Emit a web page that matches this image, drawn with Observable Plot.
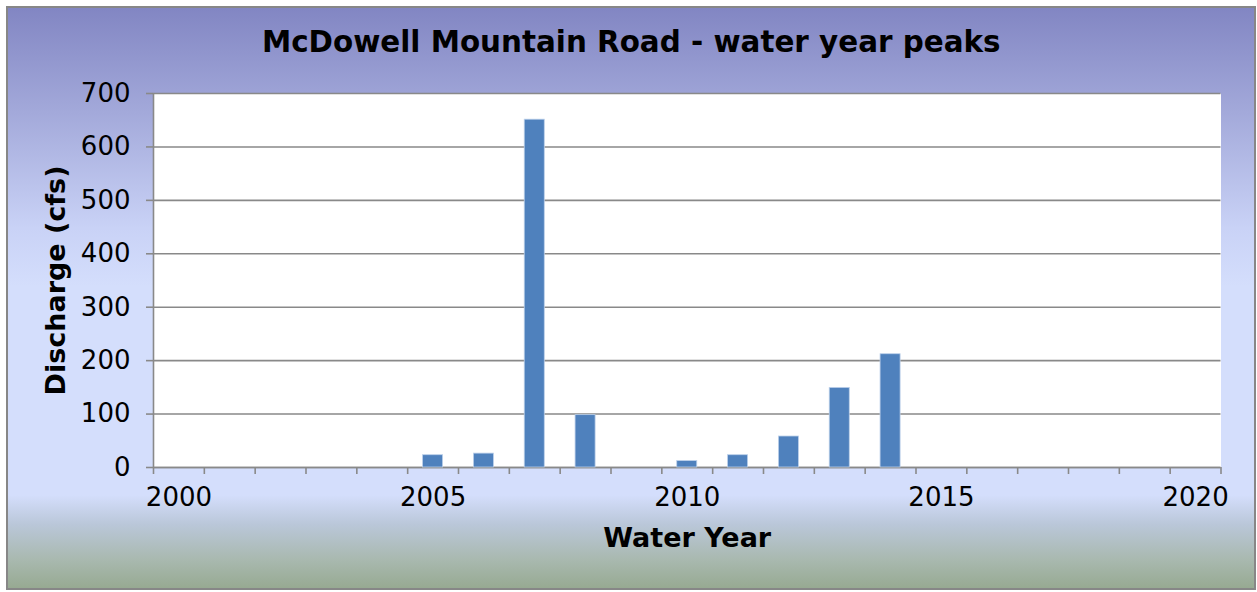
<!DOCTYPE html>
<html>
<head>
<meta charset="utf-8">
<script src="https://cdn.jsdelivr.net/npm/d3@7"></script>
<script src="https://cdn.jsdelivr.net/npm/@observablehq/plot@0.6"></script>
<style>
  html, body { margin: 0; padding: 0; background: #ffffff; }
  #wrap { position: relative; width: 1257px; height: 592px; overflow: hidden; }
  #bg {
    position: absolute; left: 6px; top: 6px; width: 1246px; height: 580px;
    border: 2px solid #878787;
    background: linear-gradient(to bottom, #8286c3 0%, #a3a9da 18%, #c9d2f6 38%, #d4defc 48%, #d4defc 84%, #bac7d9 89%, #a9b9b0 95%, #97aa92 100%);
  }
  #chart { position: absolute; left: 0; top: 0; }
</style>
</head>
<body>
<div id="wrap"><div id="bg"></div><div id="chart"></div></div>
<script>
const title = "McDowell Mountain Road - water year peaks";
const xTitle = "Water Year";
const yTitle = "Discharge (cfs)";
const years = [2005, 2006, 2007, 2008, 2010, 2011, 2012, 2013, 2014];
const peaks = [23, 26, 651, 98, 12, 23, 58, 149, 212];
const xDomain = [1999.5, 2020.5];
const xTickLabels = [2000, 2005, 2010, 2015, 2020];
const xTickMarks = d3.range(1999.5, 2021, 1);
const yTicks = [0, 100, 200, 300, 400, 500, 600, 700];

const rows = years.map((y, i) => ({year: y, peak: peaks[i]}));
const font = "DejaVu Sans";
const grid = "#898989";

const chart = Plot.plot({
  width: 1257,
  height: 592,
  marginLeft: 153,
  marginRight: 36.5,
  marginTop: 93,
  marginBottom: 125,
  style: {background: "transparent", fontFamily: font, color: "#000"},
  x: {type: "linear", domain: xDomain},
  y: {domain: [0, 700]},
  marks: [
    Plot.frame({fill: "white", stroke: null}),
    Plot.gridY(yTicks, {stroke: grid, strokeOpacity: 1, strokeWidth: 1.6}),
    Plot.axisY({ticks: yTicks, tickSize: 7, tickPadding: 16, fontSize: 26, stroke: grid, strokeWidth: 1.6, label: null, tickFormat: d => String(d)}),
    Plot.axisX({ticks: xTickMarks, tickSize: 7, tickFormat: () => "", stroke: grid, strokeWidth: 1.6, label: null}),
    Plot.axisX({ticks: xTickLabels, tickSize: 0, tickPadding: 20, fontSize: 26, label: null, tickFormat: d => String(d)}),
    Plot.ruleX([xDomain[0]], {stroke: grid, strokeWidth: 1.6}),
    Plot.ruleY([0], {stroke: grid, strokeWidth: 1.6}),
    Plot.rectY(rows, {x1: d => d.year - 0.5, x2: d => d.year + 0.5, y: "peak", insetLeft: 15.4, insetRight: 15.4, fill: "#4f81bd", stroke: "#bcd0ea", strokeWidth: 0.8}),
    Plot.text([title], {frameAnchor: "top", lineAnchor: "middle", textAnchor: "middle", dx: -56, dy: -50.5, fontSize: 29.4, fontWeight: "bold", fill: "#000"}),
    Plot.text([xTitle], {frameAnchor: "bottom", lineAnchor: "middle", textAnchor: "middle", dy: 71, fontSize: 27, fontWeight: "bold", fill: "#000"}),
    Plot.text([yTitle], {frameAnchor: "left", lineAnchor: "middle", textAnchor: "middle", dx: -97, rotate: -90, fontSize: 27, fontWeight: "bold", fill: "#000"})
  ]
});
document.getElementById("chart").appendChild(chart);
</script>
</body>
</html>
